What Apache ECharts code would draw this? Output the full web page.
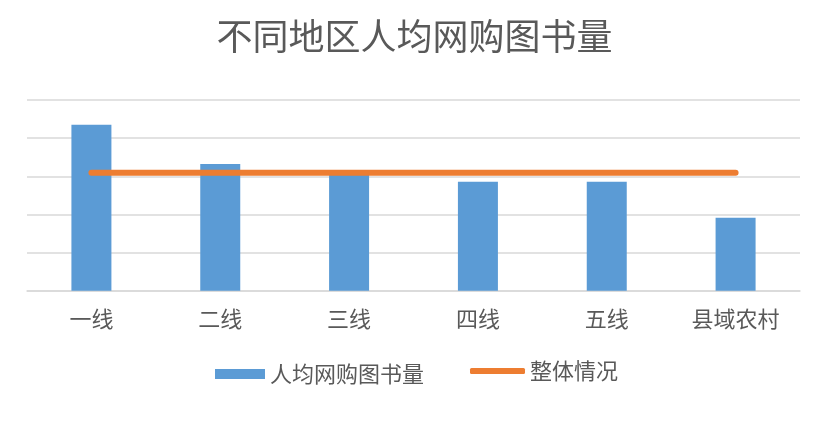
<!DOCTYPE html>
<html><head><meta charset="utf-8">
<script src="https://cdn.jsdelivr.net/npm/echarts@6/dist/echarts.min.js"></script>
<style>html,body{margin:0;padding:0;background:#fff;}#c{width:829px;height:428px;}</style>
</head><body><div id="c"></div>
<script>
const categories = ['一线','二线','三线','四线','五线','县域农村'];
const booksPerCapita = [8.70, 6.65, 6.10, 5.71, 5.71, 3.83];
const overall = [6.19, 6.19, 6.19, 6.19, 6.19, 6.19];
const titleText = '不同地区人均网购图书量';
const barName = '人均网购图书量';
const lineName = '整体情况';

const font = '"Noto Sans CJK SC", "Microsoft YaHei", sans-serif';
const chart = echarts.init(document.getElementById('c'), null, {renderer:'canvas'});
chart.setOption({
  animation:false,
  backgroundColor:'#fff',
  title:{text:titleText,left:'center',top:18,padding:0,textStyle:{fontFamily:font,fontSize:36,fontWeight:'normal',color:'#595959'}},
  grid:{left:27,right:29,top:100,bottom:137.3,containLabel:false},
  legend:[
    {data:[{name:barName,icon:'rect'}],left:215,top:363,padding:0,itemWidth:50,itemHeight:10,itemGap:0,
     textStyle:{fontFamily:font,fontSize:22,color:'#595959',padding:[12,0,0,0]}},
    {data:[{name:lineName,icon:'roundRect'}],left:470,top:360,padding:0,itemWidth:55,itemHeight:6,
     textStyle:{fontFamily:font,fontSize:22,color:'#595959'}}
  ],
  xAxis:{type:'category',data:categories,boundaryGap:true,
    axisLine:{lineStyle:{color:'#D9D9D9',width:1.5}},axisTick:{show:false},
    axisLabel:{margin:17,fontFamily:font,fontSize:22,color:'#595959'}},
  yAxis:{type:'value',min:0,max:10,interval:2,
    axisLabel:{show:false},axisLine:{show:false},axisTick:{show:false},
    splitLine:{lineStyle:{color:'#D9D9D9',width:1.5}}},
  series:[
    {name:barName,type:'bar',data:booksPerCapita,barWidth:40,itemStyle:{color:'#5B9BD5'}},
    {name:lineName,type:'line',data:overall,symbol:'none',itemStyle:{color:'#ED7D31'},
     lineStyle:{color:'#ED7D31',width:6,cap:'round'}}
  ]
});
</script></body></html>
